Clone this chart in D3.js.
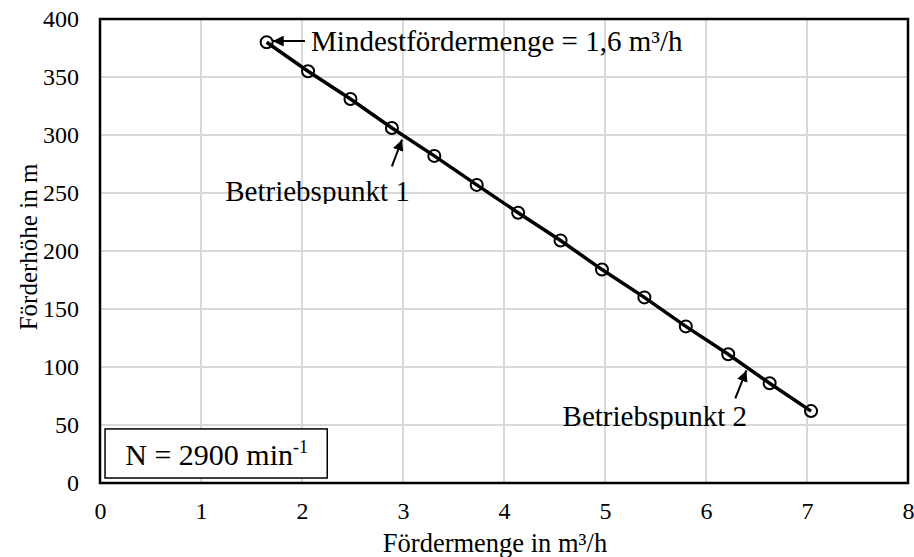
<!DOCTYPE html>
<html>
<head>
<meta charset="utf-8">
<script src="https://cdn.jsdelivr.net/npm/d3@7"></script>
<style>
  body { margin: 0; background: #fff; }
  text { font-family: "Liberation Serif", "Times New Roman", serif; fill: #000; }
</style>
</head>
<body>
<div id="chart"></div>
<script>
// Kennlinie: Förderhöhe über Fördermenge
const foerdermenge = [1.65, 2.06, 2.48, 2.89, 3.31, 3.73, 4.14, 4.56, 4.97, 5.39, 5.80, 6.22, 6.63, 7.04]
const foerderhoehe = [380, 355, 331, 306, 282, 257, 233, 209, 184, 160, 135, 111, 86, 62]
const xTicks = [0, 1, 2, 3, 4, 5, 6, 7, 8]
const yTicks = [0, 50, 100, 150, 200, 250, 300, 350, 400]

const W = 914, H = 557
const MARGIN = { TOP: 19, BOTTOM: 74, LEFT: 100, RIGHT: 6 }
const WIDTH = W - MARGIN.LEFT - MARGIN.RIGHT
const HEIGHT = H - MARGIN.TOP - MARGIN.BOTTOM

const data = foerdermenge.map((q, i) => ({ q, h: foerderhoehe[i] }))

const svg = d3.select("#chart").append("svg")
  .attr("width", W)
  .attr("height", H)

const defs = svg.append("defs")
defs.append("marker")
  .attr("id", "arrow")
  .attr("viewBox", "0 0 10 10")
  .attr("refX", 10).attr("refY", 5)
  .attr("markerWidth", 5.5).attr("markerHeight", 5.5)
  .attr("markerUnits", "strokeWidth")
  .attr("orient", "auto")
  .append("path")
    .attr("d", "M0,0 L10,5 L0,10 Z")
    .attr("fill", "#000")

const g = svg.append("g")
  .attr("transform", `translate(${MARGIN.LEFT}, ${MARGIN.TOP})`)

const x = d3.scaleLinear().domain([0, 8]).range([0, WIDTH])
const y = d3.scaleLinear().domain([0, 400]).range([HEIGHT, 0])

// grid
g.append("g")
  .selectAll("line")
  .data(xTicks)
  .enter().append("line")
    .attr("x1", d => x(d)).attr("x2", d => x(d))
    .attr("y1", 0).attr("y2", HEIGHT)
    .attr("stroke", "#d9d9d9").attr("stroke-width", 2)
g.append("g")
  .selectAll("line")
  .data(yTicks)
  .enter().append("line")
    .attr("x1", 0).attr("x2", WIDTH)
    .attr("y1", d => y(d)).attr("y2", d => y(d))
    .attr("stroke", "#d9d9d9").attr("stroke-width", 2)

// axes (labels only, frame drawn below)
const xAxis = g.append("g")
  .attr("transform", `translate(0, ${HEIGHT})`)
  .call(d3.axisBottom(x).tickValues(xTicks).tickSize(0).tickPadding(19))
const yAxis = g.append("g")
  .call(d3.axisLeft(y).tickValues(yTicks).tickSize(0).tickPadding(21))
xAxis.select(".domain").remove()
yAxis.select(".domain").remove()
svg.selectAll(".tick text")
  .attr("font-family", "Liberation Serif")
  .attr("font-size", 24)
  .attr("fill", "#000")

// frame
g.append("rect")
  .attr("width", WIDTH).attr("height", HEIGHT)
  .attr("fill", "none")
  .attr("stroke", "#000").attr("stroke-width", 2.5)

// curve
const line = d3.line().x(d => x(d.q)).y(d => y(d.h))
g.append("path")
  .datum(data)
  .attr("d", line)
  .attr("fill", "none")
  .attr("stroke", "#000")
  .attr("stroke-width", 3.5)

g.selectAll("circle.pt")
  .data(data)
  .enter().append("circle")
    .attr("class", "pt")
    .attr("cx", d => x(d.q))
    .attr("cy", d => y(d.h))
    .attr("r", 6)
    .attr("fill", "none")
    .attr("stroke", "#000")
    .attr("stroke-width", 2)

// annotations
const arrows = [
  { x1: 2.03, y1: 381, x2: 1.71, y2: 381 },
  { x1: 2.89, y1: 273, x2: 2.99, y2: 296 },
  { x1: 6.29, y1: 73, x2: 6.40, y2: 97 }
]
g.selectAll("line.arrow")
  .data(arrows)
  .enter().append("line")
    .attr("class", "arrow")
    .attr("x1", d => x(d.x1)).attr("y1", d => y(d.y1))
    .attr("x2", d => x(d.x2)).attr("y2", d => y(d.y2))
    .attr("stroke", "#000")
    .attr("stroke-width", 2)
    .attr("marker-end", "url(#arrow)")

g.append("text")
  .attr("x", x(2.09)).attr("y", y(372))
  .attr("font-size", 29)
  .text("Mindestfördermenge = 1,6 m³/h")

// labels whose descenders are cut off like in the original
const labels = [
  { t: "Betriebspunkt 1", x: 1.24, y: 243 },
  { t: "Betriebspunkt 2", x: 4.58, y: 49 }
]
labels.forEach((l, i) => {
  const cx = x(l.x), cy = y(l.y)
  defs.append("clipPath").attr("id", "clip" + i)
    .append("rect")
      .attr("x", MARGIN.LEFT + cx - 5).attr("y", MARGIN.TOP + cy - 30)
      .attr("width", 230).attr("height", 33)
  svg.append("text")
    .attr("clip-path", `url(#clip${i})`)
    .attr("x", MARGIN.LEFT + cx).attr("y", MARGIN.TOP + cy)
    .attr("font-size", 29)
    .text(l.t)
})

// speed box
const box = g.append("g")
box.append("rect")
  .attr("x", x(0.05)).attr("y", y(46.6))
  .attr("width", x(2.25) - x(0.05))
  .attr("height", y(4.3) - y(46.6))
  .attr("fill", "#fff")
  .attr("stroke", "#000").attr("stroke-width", 1.5)
const nText = box.append("text")
  .attr("x", x(0.25)).attr("y", y(15.5))
  .attr("font-size", 30)
nText.append("tspan").text("N = 2900 min")
nText.append("tspan").attr("dy", -12).attr("font-size", 18).text("-1")

// axis titles
svg.append("text")
  .attr("x", 495)
  .attr("y", H - 5)
  .attr("text-anchor", "middle")
  .attr("font-size", 26.5)
  .text("Fördermenge in m³/h")

svg.append("text")
  .attr("transform", `translate(37, 247) rotate(-90)`)
  .attr("text-anchor", "middle")
  .attr("font-size", 25)
  .text("Förderhöhe in m")
</script>
</body>
</html>
